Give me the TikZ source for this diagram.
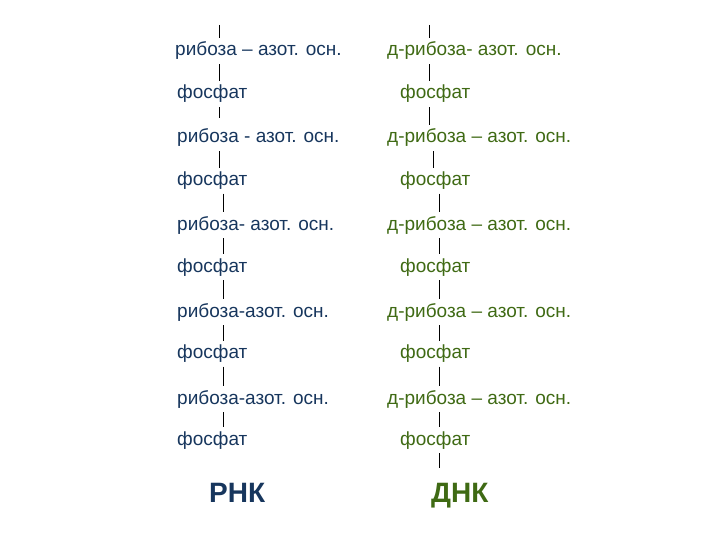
\documentclass[tikz,border=0pt]{standalone}
\usepackage{fontspec}
\setmainfont{Liberation Sans}
\definecolor{rnkblue}{HTML}{17365D}
\definecolor{dnkgreen}{HTML}{3F6A14}

\begin{document}
\begin{tikzpicture}[x=1pt,y=-1pt,
	strand/.style={anchor=base west,inner sep=0pt,font=\fontsize{19}{22}\selectfont},
	rna/.style={strand,text=rnkblue},
	dna/.style={strand,text=dnkgreen},
	bond/.style={line width=.9pt,shorten <=4pt,shorten >=4pt},
	title/.style={anchor=base west,inner sep=0pt,font=\fontsize{28}{32}\selectfont\bfseries}]
		\useasboundingbox (0,0) rectangle (720,540);
		% RNA
		\node[rna] (lr1) at (175,56) {рибоза – азот. осн.};
		\node[rna] (lf1) at (177,99) {фосфат};
		\node[rna] (lr2) at (177,143) {рибоза - азот. осн.};
		\node[rna] (lf2) at (177,185.5) {фосфат};
		\node[rna] (lr3) at (177,230) {рибоза- азот. осн.};
		\node[rna] (lf3) at (177,272) {фосфат};
		\node[rna] (lr4) at (177,317) {рибоза-азот. осн.};
		\node[rna] (lf4) at (177,358.5) {фосфат};
		\node[rna] (lr5) at (177,404) {рибоза-азот. осн.};
		\node[rna] (lf5) at (177,445) {фосфат};
		\node[title,text=rnkblue] (rnk) at (209,502) {РНК};
		% DNA
		\node[dna] (rr1) at (387,56) {д-рибоза- азот. осн.};
		\node[dna] (rf1) at (400,99) {фосфат};
		\node[dna] (rr2) at (387,143) {д-рибоза – азот. осн.};
		\node[dna] (rf2) at (400,185.5) {фосфат};
		\node[dna] (rr3) at (387,230) {д-рибоза – азот. осн.};
		\node[dna] (rf3) at (400,272) {фосфат};
		\node[dna] (rr4) at (387,317) {д-рибоза – азот. осн.};
		\node[dna] (rf4) at (400,358.5) {фосфат};
		\node[dna] (rr5) at (387,404) {д-рибоза – азот. осн.};
		\node[dna] (rf5) at (400,445) {фосфат};
		\node[title,text=dnkgreen] (dnk) at (431,502) {ДНК};
		% bonds
		\coordinate (lx1) at (219,0);
		\coordinate (lx2) at (223,0);
		\coordinate (rx1) at (429,0);
		\coordinate (rx2) at (433,0);
		\coordinate (rx3) at (439,0);
		\coordinate (ltop) at (219,25);
		\coordinate (rtop) at (429,25);
		\coordinate (rbot) at (439,468);
		\draw[bond,shorten <=0pt] (ltop) -- (lr1.north -| ltop);
		\draw[bond,shorten <=0pt] (rtop) -- (rr1.north -| rtop);
		\draw[bond,shorten >=11pt] (lf1.south -| lx1) -- (lr2.north -| lx1);
		\foreach \a/\b/\x in {lr1/lf1/lx1,lr2/lf2/lx1,lf2/lr3/lx2,lr3/lf3/lx2,lf3/lr4/lx2,lr4/lf4/lx2,lf4/lr5/lx2,lr5/lf5/lx2,
			rr1/rf1/rx1,rf1/rr2/rx1,rr2/rf2/rx2,rf2/rr3/rx3,rr3/rf3/rx3,rf3/rr4/rx3,rr4/rf4/rx3,rf4/rr5/rx3,rr5/rf5/rx3}
			\draw[bond] (\a.south -| \x) -- (\b.north -| \x);
		\draw[bond,shorten >=0pt] (rf5.south -| rbot) -- (rbot);
	\end{tikzpicture}
\end{document}
